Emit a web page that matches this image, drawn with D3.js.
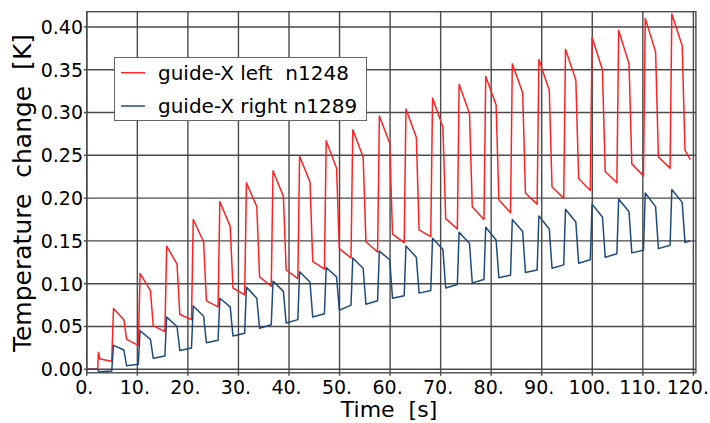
<!DOCTYPE html>
<html>
<head>
<meta charset="utf-8">
<script src="https://cdn.jsdelivr.net/npm/d3@7/dist/d3.min.js"></script>
<style>
  html, body { margin: 0; padding: 0; background: #fff; }
  svg { display: block; font-family: "DejaVu Sans", Verdana, sans-serif; }
  text { white-space: pre; }
</style>
</head>
<body>
<svg id="chart" width="710" height="423"></svg>
<script>
// Sample times [s] shared by both sensors
const timeS = [
  0, 2.15, 2.3, 2.6, 4.93,
  5.28, 7.33, 7.88, 10.19,
  10.54, 12.59, 13.14, 15.45,
  15.80, 17.85, 18.40, 20.71,
  21.06, 23.11, 23.66, 25.97,
  26.32, 28.37, 28.92, 31.23,
  31.58, 33.63, 34.18, 36.49,
  36.84, 38.89, 39.44, 41.75,
  42.10, 44.15, 44.70, 47.01,
  47.36, 49.41, 49.96, 52.27,
  52.62, 54.67, 55.22, 57.53,
  57.88, 59.93, 60.48, 62.79,
  63.14, 65.19, 65.74, 68.05,
  68.40, 70.45, 71.00, 73.31,
  73.66, 75.71, 76.26, 78.57,
  78.92, 80.97, 81.52, 83.83,
  84.18, 86.23, 86.78, 89.09,
  89.44, 91.49, 92.04, 94.35,
  94.70, 96.75, 97.30, 99.61,
  99.96, 102.01, 102.56, 104.87,
  105.22, 107.27, 107.82, 110.13,
  110.48, 112.53, 113.08, 115.39,
  115.74, 117.79, 118.34, 119.40
];

// Temperature change [K], guide-X left, node n1248
const leftN1248 = [
  0, 0, 0.020, 0.012, 0.0095,
  0.071, 0.058, 0.035, 0.028,
  0.112, 0.092, 0.051, 0.044,
  0.144, 0.123, 0.064, 0.058,
  0.175, 0.149, 0.080, 0.073,
  0.196, 0.167, 0.095, 0.087,
  0.218, 0.190, 0.108, 0.097,
  0.232, 0.202, 0.116, 0.106,
  0.249, 0.219, 0.126, 0.117,
  0.267, 0.235, 0.141, 0.130,
  0.280, 0.248, 0.149, 0.137,
  0.296, 0.264, 0.158, 0.148,
  0.304, 0.271, 0.163, 0.155,
  0.317, 0.283, 0.176, 0.164,
  0.333, 0.299, 0.190, 0.175,
  0.342, 0.309, 0.198, 0.183,
  0.357, 0.323, 0.206, 0.193,
  0.362, 0.326, 0.213, 0.200,
  0.374, 0.338, 0.223, 0.209,
  0.388, 0.350, 0.231, 0.218,
  0.396, 0.357, 0.240, 0.226,
  0.410, 0.371, 0.248, 0.235,
  0.415, 0.378, 0.256, 0.245
];

// Temperature change [K], guide-X right, node n1289
const rightN1289 = [
  0, 0, -0.002, -0.003, -0.002,
  0.028, 0.0225, 0.004, 0.006,
  0.045, 0.035, 0.013, 0.0155,
  0.061, 0.050, 0.022, 0.025,
  0.074, 0.062, 0.031, 0.034,
  0.083, 0.073, 0.039, 0.042,
  0.096, 0.083, 0.048, 0.052,
  0.103, 0.091, 0.054, 0.058,
  0.114, 0.102, 0.061, 0.065,
  0.119, 0.108, 0.069, 0.075,
  0.130, 0.118, 0.076, 0.080,
  0.138, 0.128, 0.083, 0.086,
  0.144, 0.131, 0.089, 0.092,
  0.153, 0.140, 0.095, 0.099,
  0.160, 0.147, 0.101, 0.105,
  0.166, 0.151, 0.107, 0.110,
  0.175, 0.161, 0.113, 0.116,
  0.179, 0.164, 0.118, 0.122,
  0.187, 0.172, 0.124, 0.128,
  0.193, 0.178, 0.131, 0.135,
  0.199, 0.184, 0.136, 0.139,
  0.206, 0.190, 0.141, 0.145,
  0.210, 0.195, 0.148, 0.150
];

const seriesNames = ["guide-X left  n1248", "guide-X right n1289"];
const xTickValues = [0, 10, 20, 30, 40, 50, 60, 70, 80, 90, 100, 110, 120];
const xTickLabels = ["0.", "10.", "20.", "30.", "40.", "50.", "60.", "70.", "80.", "90.", "100.", "110.", "120."];
const yTickValues = [0, 0.05, 0.10, 0.15, 0.20, 0.25, 0.30, 0.35, 0.40];
const yTickLabels = ["0.00", "0.05", "0.10", "0.15", "0.20", "0.25", "0.30", "0.35", "0.40"];

const W = 710;
const svg = d3.select("#chart");
const plot = { left: 86.8, right: 695.9, top: 11.7, bottom: 372.8 };

const x = d3.scaleLinear().domain([0, 120.5]).range([plot.left, plot.right]);
const y = d3.scaleLinear().domain([-0.0041, 0.4178]).range([plot.bottom, plot.top]);

const gridColor = "#4a4a4a";

// grid
const grid = svg.append("g");
grid.selectAll("line.h").data(yTickValues).join("line")
  .attr("x1", plot.left).attr("x2", plot.right)
  .attr("y1", d => y(d)).attr("y2", d => y(d))
  .attr("stroke", gridColor).attr("stroke-width", 1.4);
grid.selectAll("line.v").data(xTickValues).join("line")
  .attr("y1", plot.top).attr("y2", plot.bottom + 3)
  .attr("x1", d => x(d)).attr("x2", d => x(d))
  .attr("stroke", gridColor).attr("stroke-width", 1.4);

// frame
svg.append("rect")
  .attr("x", plot.left).attr("y", plot.top)
  .attr("width", plot.right - plot.left).attr("height", plot.bottom - plot.top)
  .attr("fill", "none").attr("stroke", gridColor).attr("stroke-width", 1.4);

// left tick marks
svg.append("g").selectAll("line").data(yTickValues).join("line")
  .attr("x1", plot.left - 3).attr("x2", plot.left)
  .attr("y1", d => y(d)).attr("y2", d => y(d))
  .attr("stroke", gridColor).attr("stroke-width", 1.4);

// axis labels; the last one is kept inside the right edge
const xLabels = svg.append("g").selectAll("text").data(xTickValues).join("text")
  .attr("x", d => x(d) - 2.5).attr("y", 394)
  .attr("text-anchor", "middle").attr("font-size", 19).attr("fill", "#000")
  .text((d, i) => xTickLabels[i]);
xLabels.each(function () {
  const bb = this.getBBox();
  if (bb.x + bb.width > W - 1) {
    d3.select(this).attr("text-anchor", "end").attr("x", W - 1);
  }
});

svg.append("g").selectAll("text").data(yTickValues).join("text")
  .attr("x", 83).attr("y", d => y(d) + 6.8)
  .attr("text-anchor", "end").attr("font-size", 19).attr("fill", "#000")
  .text((d, i) => yTickLabels[i]);

svg.append("text")
  .attr("x", 389).attr("y", 417)
  .attr("text-anchor", "middle").attr("font-size", 22).attr("fill", "#000")
  .text("Time  [s]");

svg.append("text")
  .attr("transform", "translate(30.5,193) rotate(-90)")
  .attr("text-anchor", "middle").attr("font-size", 25).attr("fill", "#000")
  .text("Temperature  change  [K]");

// curves
const colors = ["#ff2222", "#1d4b7d"];
const line = d3.line()
  .x(d => x(d[0]))
  .y(d => y(d[1]));

const curves = [leftN1248, rightN1289].map(vals => timeS.map((t, i) => [t, vals[i]]));

svg.append("g").selectAll("path").data(curves).join("path")
  .attr("d", line)
  .attr("fill", "none")
  .attr("stroke", (d, i) => colors[i])
  .attr("stroke-width", 1.5)
  .attr("stroke-linejoin", "round");

// legend
const legend = svg.append("g");
legend.append("rect")
  .attr("x", 114.5).attr("y", 57.5).attr("width", 252).attr("height", 63)
  .attr("fill", "#fff").attr("stroke", "#666").attr("stroke-width", 1);
const rows = [72.7, 106];
legend.selectAll("line").data(seriesNames).join("line")
  .attr("x1", 121).attr("x2", 145)
  .attr("y1", (d, i) => rows[i]).attr("y2", (d, i) => rows[i])
  .attr("stroke", (d, i) => colors[i]).attr("stroke-width", 1.5);
legend.selectAll("text").data(seriesNames).join("text")
  .attr("x", 158).attr("y", (d, i) => rows[i] + 7.3)
  .attr("font-size", 20).attr("fill", "#000")
  .text(d => d);
</script>
</body>
</html>
